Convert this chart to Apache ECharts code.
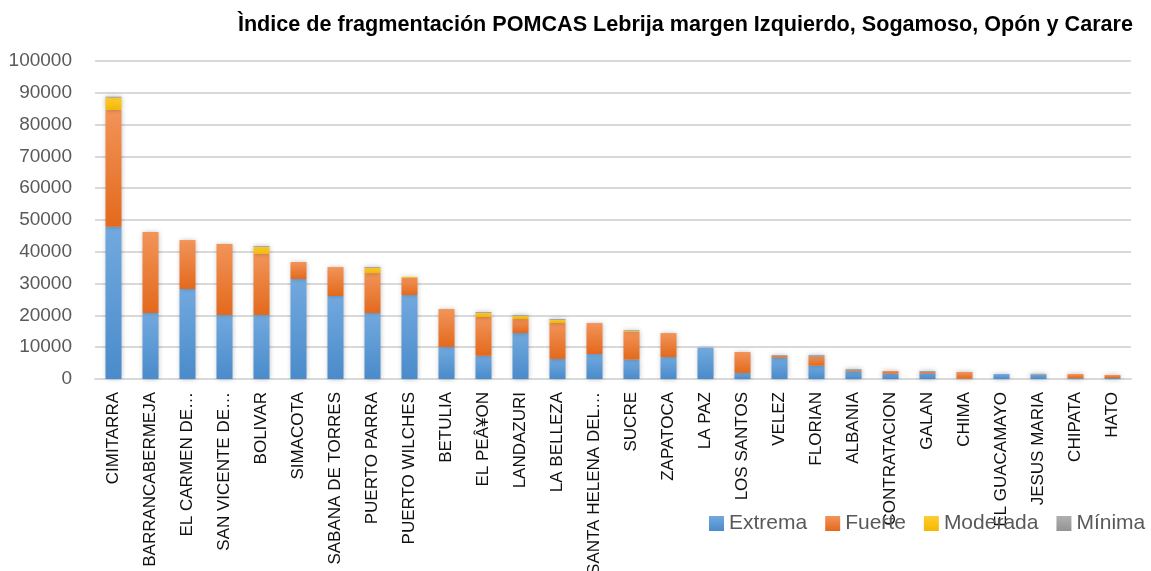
<!DOCTYPE html>
<html>
<head>
<meta charset="utf-8">
<script src="https://cdn.jsdelivr.net/npm/echarts@6/dist/echarts.min.js"></script>
<style>
html,body{margin:0;padding:0;background:#fff;}
#chart{width:1151px;height:571px;}
</style>
</head>
<body>
<div id="chart"></div>
<script>
var titleText = 'Ìndice de fragmentación POMCAS Lebrija margen Izquierdo, Sogamoso, Opón y Carare';
var categories = ['CIMITARRA','BARRANCABERMEJA','EL CARMEN DE…','SAN VICENTE DE…','BOLIVAR','SIMACOTA','SABANA DE TORRES','PUERTO PARRA','PUERTO WILCHES','BETULIA','EL PEÂ¥ON','LANDAZURI','LA BELLEZA','SANTA HELENA DEL…','SUCRE','ZAPATOCA','LA PAZ','LOS SANTOS','VELEZ','FLORIAN','ALBANIA','CONTRATACION','GALAN','CHIMA','EL GUACAMAYO','JESUS MARIA','CHIPATA','HATO'];
var seriesNames = ['Extrema','Fuerte','Moderada','Mínima'];
var extrema  = [47900,20750,28300,20100,20100,31450,26100,20750,26400,10050,7300,14450,6300,7850,6100,6900,9850,1900,6700,4200,2300,1700,1800,100,1550,1350,250,300];
var fuerte   = [36800,25450,15400,22350,19300,5350,9100,12550,5350,11950,12200,4400,11300,9750,8800,7550,0,6600,600,2800,250,800,400,2100,0,0,1300,950];
var moderada = [3800,0,0,0,2100,0,0,1600,350,0,1250,950,950,0,300,0,0,0,0,0,0,0,0,0,0,0,0,0];
var minima   = [300,0,0,0,300,0,0,300,0,0,300,300,300,0,200,0,0,0,250,550,600,0,300,0,0,300,0,0];
var yTicks = {min:0, max:100000, interval:10000};

var FONT = '"Liberation Sans", Arial, sans-serif';
var chart = echarts.init(document.getElementById('chart'));
function grad(a,b){return new echarts.graphic.LinearGradient(0,0,0,1,[{offset:0,color:a},{offset:1,color:b}]);}
var colors = [grad('#72a9de','#4a8bcb'), grad('#f29459','#e3691c'), grad('#ffcd33','#f5b800'), grad('#b0b0b0','#939393')];
var data = [extrema,fuerte,moderada,minima];
var series = seriesNames.map(function(n,i){
  return {
    name:n, type:'bar', stack:'total', barWidth:16, data:data[i],
    itemStyle:{color:colors[i], shadowBlur:5, shadowColor:'rgba(0,0,0,0.28)'},
    emphasis:{disabled:true}
  };
});
chart.setOption({
  animation:false,
  textStyle:{fontFamily:FONT},
  title:{text:titleText, right:13, top:9,
    textStyle:{fontFamily:FONT,fontWeight:'bold',fontSize:21.6,color:'#000'}},
  legend:{left:704, top:508, width:447, itemWidth:15, itemHeight:15, itemGap:18, icon:'rect',
    textStyle:{fontFamily:FONT,fontSize:21,color:'#595959'}},
  grid:{left:95, right:20, top:61, bottom:192, containLabel:false, outerBoundsMode:'none'},
  xAxis:{type:'category', data:categories,
    axisLine:{lineStyle:{color:'#d9d9d9',width:2}},
    axisTick:{show:false},
    axisLabel:{rotate:90, interval:0, margin:13, fontFamily:FONT, fontSize:17, color:'#111'}},
  yAxis:{type:'value', min:yTicks.min, max:yTicks.max, interval:yTicks.interval,
    axisLine:{show:false}, axisTick:{show:false},
    axisLabel:{fontFamily:FONT, fontSize:19, color:'#595959', margin:23,
      formatter:function(v){return String(v);}},
    splitLine:{lineStyle:{color:'#d9d9d9',width:2}}},
  series:series
});
</script>
</body>
</html>
